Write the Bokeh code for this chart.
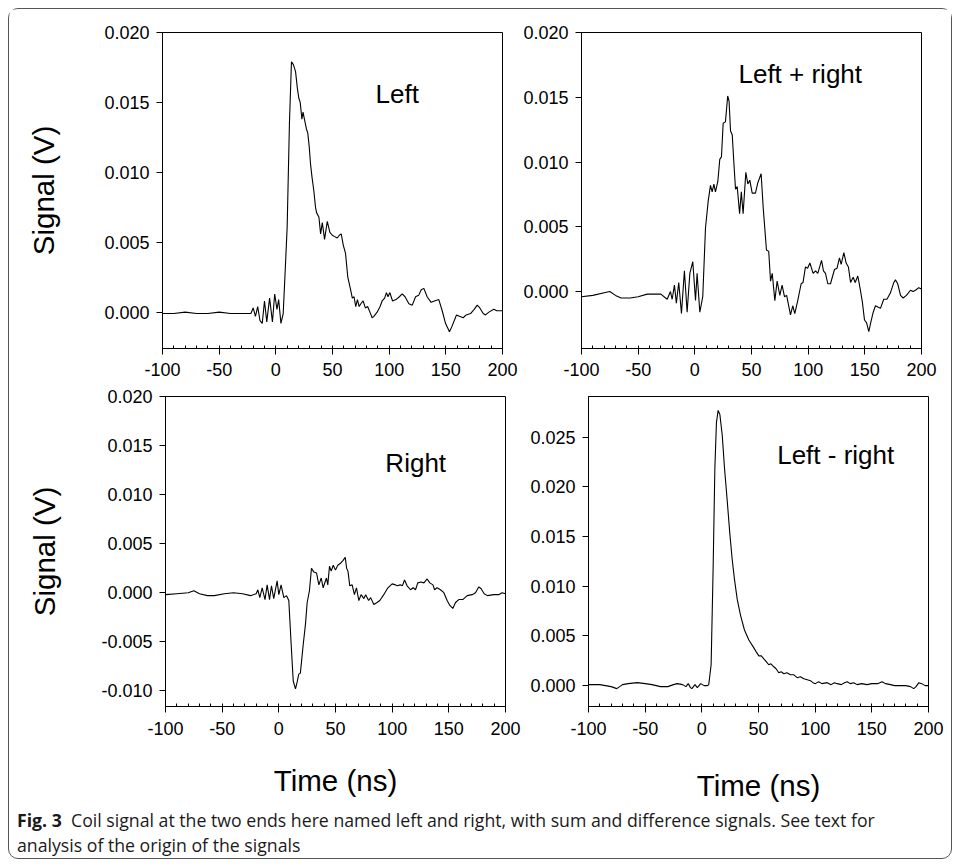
from bokeh.plotting import figure
from bokeh.models import Range1d, Label, Div, PrintfTickFormatter, FixedTicker
from bokeh.layouts import column, row
from bokeh.embed import file_html
from bokeh.resources import INLINE

# ---------------- data ----------------
x_ticks = [-100, -50, 0, 50, 100, 150, 200]

left_t = [-100, -90, -80, -70, -60, -50, -40, -30, -22, -20, -18, -16, -14, -12, -10, -8, -5.5, -3, -1,
          1, 2.5, 4.5, 6.5, 8, 10, 12, 13.8, 15.5, 17.4, 19, 20.3, 21.5, 23, 24, 25.5, 27, 28.2, 29.5,
          30.6, 32, 33.5, 35, 36, 38, 39.5, 41, 43, 45.4, 47.7, 49.8, 52, 54.2, 56, 57.7, 59.5, 61.5,
          63.5, 66, 67.5, 69, 70.5, 72, 73.5, 75, 77, 79, 81, 83, 85, 86.5, 89.4, 92, 93.8, 96, 97.6,
          99, 100.6, 103, 106, 109, 111.5, 114, 117.4, 120.4, 123.3, 126, 128.3, 130.6, 133.5, 137,
          140, 143.8, 146.8, 149.7, 153.2, 155.5, 159.4, 162, 165.3, 168, 171.8, 175, 177.7, 180, 183,
          185, 188, 192.3, 195, 200]
left_v = [-0.0001, -0.0001, 0.0, -0.0001, -0.0001, 0.0, -0.0001, -0.0001, -0.0001, 0.0003, -0.0003,
          0.0004, -0.0006, -0.0008, 0.0008, -0.0007, 0.0010, -0.0007, 0.0013, 0.0002, 0.0009, -0.0008,
          -0.0001, 0.0025, 0.0061, 0.0135, 0.0179, 0.0177, 0.0172, 0.0160, 0.0153, 0.0150, 0.0138,
          0.0143, 0.0137, 0.0131, 0.0128, 0.0118, 0.0106, 0.0096, 0.0087, 0.0075, 0.0071, 0.0068,
          0.0056, 0.0064, 0.0052, 0.0065, 0.0057, 0.0055, 0.0054, 0.0053, 0.0055, 0.0056, 0.0048,
          0.0042, 0.0025, 0.0016, 0.0010, 0.0011, 0.0004, 0.0009, 0.0004, 0.0006, 0.0008, 0.0003,
          0.0004, 0.0, -0.0004, -0.0003, 0.0, 0.0004, 0.0008, 0.0010, 0.0014, 0.0011, 0.0014, 0.0008,
          0.0009, 0.0011, 0.0013, 0.0011, 0.0006, 0.0005, 0.0011, 0.0012, 0.0016, 0.0017, 0.0011,
          0.0007, 0.0008, 0.0009, 0.0001, -0.0008, -0.0014, -0.0010, -0.0002, -0.0003, -0.0004,
          -0.0002, -0.0001, 0.0002, 0.0005, 0.0003, -0.0001, -0.0002, 0.0, 0.0002, 0.0001, 0.0001]

sum_t = [-100, -90, -80, -75, -70, -65, -57, -50, -42, -35, -30, -24.4, -21.5, -20, -18, -16.3, -14.2,
         -11.8, -9.2, -6.8, -4.4, -1.8, 0.6, 2, 4.4, 7, 9.4, 11.8, 13.8, 15.3, 16.8, 18.2, 20.3, 22,
         23.5, 25, 27, 29, 30.2, 31.5, 33, 34.4, 35.9, 37.4, 39.5, 41, 42.6, 45, 46.8, 48.5, 50.6,
         53.5, 55.6, 58.5, 60.3, 63.2, 65.2, 66.8, 68.3, 70.6, 72.6, 75, 77, 79.1, 81, 84.4, 86.4,
         88.2, 90.8, 93.8, 95.5, 97.6, 99.5, 101.5, 104.4, 106.5, 108.5, 111.8, 113.5, 115.3, 117.3,
         119.7, 123.2, 125.5, 127.6, 129.1, 131.5, 133.5, 135.5, 137.4, 139.7, 141.5, 143.8, 146.1,
         147.8, 149.7, 151.5, 153.5, 155.2, 157.4, 159.4, 161.5, 163.8, 166.7, 169.5, 172.6, 175.6,
         177, 179, 181.5, 183.8, 186.7, 190.3, 192.5, 194.7, 197.6, 200]
sum_v = [-0.0004, -0.0003, -0.0001, 0.0, -0.0003, -0.0005, -0.0005, -0.0004, -0.0002, -0.0002,
         -0.0002, -0.0006, 0.0, -0.0006, 0.0005, -0.0009, 0.0007, -0.0017, 0.0016, -0.0016, 0.0014,
         0.0023, -0.0007, 0.0014, -0.0016, -0.0004, 0.0049, 0.0070, 0.0082, 0.0077, 0.0083, 0.0077,
         0.0085, 0.0102, 0.0104, 0.0130, 0.0131, 0.0151, 0.0147, 0.0124, 0.0121, 0.0100, 0.0079,
         0.0081, 0.0060, 0.0077, 0.0060, 0.0092, 0.0083, 0.0086, 0.0076, 0.0076, 0.0084, 0.0091,
         0.0065, 0.0032, 0.0031, 0.0008, 0.0014, -0.0007, 0.0008, -0.0003, 0.0005, -0.0004, -0.0003,
         -0.0018, -0.0011, -0.0017, -0.0007, 0.0006, 0.0007, 0.0019, 0.0018, 0.0022, 0.0014, 0.0016,
         0.0014, 0.0024, 0.0016, 0.0014, 0.0006, 0.0006, 0.0017, 0.0018, 0.0026, 0.0021, 0.0030,
         0.0022, 0.0019, 0.0007, 0.0011, 0.0007, 0.0012, 0.0001, -0.0008, -0.0022, -0.0024, -0.0031,
         -0.0024, -0.0016, -0.0011, -0.0012, -0.0013, -0.0006, -0.0006, -0.0001, 0.0007, 0.0009,
         0.0006, -0.0003, -0.0005, -0.0003, 0.0001, 0.0, 0.0001, 0.0003, 0.0002]

right_t = [-100, -90, -80, -75, -70, -63, -57, -48, -40, -32, -25, -20, -18.5, -16.8, -14.7, -12.2,
           -10.3, -8.2, -6.5, -4.5, -1.5, 0, 2, 4.4, 6.8, 8.8, 10.9, 12.7, 14.7, 16.2, 17.6, 19, 21.5,
           23.5, 25, 27, 28.8, 30.9, 33.3, 35.3, 37.4, 39.1, 42, 43.2, 44.7, 46.2, 48, 50, 52, 54.4,
           56.7, 58.6, 59.8, 61, 62.6, 64.7, 66.7, 68.5, 70.6, 72.6, 75, 76.6, 79.2, 81, 83.8, 86.7,
           89.1, 92.6, 96.2, 100, 103, 104.5, 107.1, 109, 110.9, 113.2, 116.2, 118.5, 120.6, 122.6,
           125.5, 128, 130.9, 133.2, 136, 137.4, 139.6, 142.6, 145.6, 148.5, 150.9, 153.5, 155.9,
           158.8, 162.3, 166.2, 170.6, 173.5, 176.5, 178.5, 181.2, 184.1, 189.7, 194, 197, 200]
right_v = [-0.0002, -0.0001, 0.0, 0.0002, -0.0001, -0.0003, -0.0003, -0.0001, 0.0, -0.0001, -0.0003,
           -0.0001, 0.0003, -0.0005, 0.0005, -0.0007, 0.0008, -0.0007, 0.0007, -0.0006, 0.0012,
           -0.0002, 0.0008, -0.0005, -0.0003, -0.0008, -0.0053, -0.0090, -0.0098, -0.0091, -0.0083,
           -0.0082, -0.0053, -0.0032, -0.0010, 0.0002, 0.0025, 0.0021, 0.0020, 0.0008, 0.0015, 0.0005,
           0.0015, 0.0008, 0.0027, 0.0022, 0.0028, 0.0023, 0.0028, 0.0030, 0.0033, 0.0036, 0.0025,
           0.0022, 0.0007, 0.0008, -0.0002, 0.0005, -0.0008, -0.0002, -0.0006, -0.0002, -0.0008,
           -0.0005, -0.0012, -0.0010, -0.0008, -0.0002, 0.0005, 0.0009, 0.0008, 0.0007, 0.0008, 0.0007,
           0.0013, 0.0007, 0.0003, 0.0005, 0.0003, 0.0010, 0.0011, 0.0010, 0.0014, 0.0010, 0.0008,
           0.0003, 0.0005, 0.0003, 0.0, -0.0008, -0.0013, -0.0016, -0.0010, -0.0007, -0.0007, -0.0003,
           -0.0002, 0.0, 0.0006, 0.0004, -0.0001, -0.0003, -0.0002, -0.0002, 0.0, -0.0001]

diff_t = [-100, -90, -80, -75, -70, -65, -57, -50, -44, -36.5, -30, -25, -21.7, -17, -14, -12, -10,
          -8.8, -6, -4, -1, 2, 5, 6.1, 8.2, 10, 11.5, 12.9, 14.4, 15.9, 18, 20, 22.4, 24.7, 26.8,
          28.8, 31.2, 34.1, 37.6, 41.5, 45.9, 48, 50.3, 52.5, 54.7, 57, 59.1, 61, 63.5, 65.5, 67.9,
          70, 72.4, 75, 78.2, 81, 84.1, 87, 90, 93, 95.9, 98, 100.3, 103, 106, 110.6, 114, 117, 119.4,
          123, 126, 128.2, 131, 134, 137, 141, 145.8, 150, 155, 159.1, 162, 166.5, 170, 175.3, 180,
          184.1, 187, 189, 191.5, 194, 197, 200]
diff_v = [0.0001, 0.0001, -0.0001, -0.0003, 0.0001, 0.0002, 0.0003, 0.0002, 0.0001, -0.0001, -0.0001,
          0.0001, 0.0002, 0.0001, -0.0001, 0.0002, -0.0002, -0.0003, 0.0001, -0.0002, 0.0002, 0.0,
          0.0, 0.0001, 0.0021, 0.0120, 0.0219, 0.0265, 0.0277, 0.0273, 0.0252, 0.0219, 0.0186, 0.0153,
          0.0127, 0.0107, 0.0087, 0.0071, 0.0056, 0.0046, 0.0038, 0.0034, 0.0030, 0.0030, 0.0027,
          0.0024, 0.0021, 0.0022, 0.0019, 0.0017, 0.0013, 0.0014, 0.0012, 0.0013, 0.0011, 0.0011,
          0.0008, 0.0009, 0.0007, 0.0006, 0.0005, 0.0003, 0.0002, 0.0004, 0.0002, 0.0003, 0.0001,
          0.0003, 0.0002, 0.0001, 0.0003, 0.0004, 0.0002, 0.0003, 0.0001, 0.0002, 0.0001, 0.0002,
          0.0002, 0.0004, 0.0002, 0.0001, 0.0, 0.0, 0.0, -0.0001, -0.0003, -0.0001, 0.0003, 0.0002,
          0.0, 0.0]

FONT = "Liberation Sans"


def panel(t, v, yr, yticks, width, height, mbl, mbr, mbt, mbb, label, lx, ly,
          ylabel=None, ylab_standoff=44, xlabel=None, xlab_standoff=16, x_label_standoff=8):
    p = figure(width=width, height=height, x_range=Range1d(-100, 200), y_range=Range1d(*yr),
               output_backend="svg", toolbar_location=None,
               min_border_left=mbl, min_border_right=mbr, min_border_top=mbt, min_border_bottom=mbb)
    p.grid.visible = False
    p.outline_line_color = "black"
    p.outline_line_width = 1
    p.background_fill_color = "white"
    p.border_fill_color = "white"
    p.line(t, v, line_color="black", line_width=1.1)

    xa = p.xaxis[0]
    xa.ticker = FixedTicker(ticks=x_ticks, minor_ticks=list(range(-100, 201, 10)))
    xa.formatter = PrintfTickFormatter(format="%d")
    xa.major_tick_in = 0
    xa.major_tick_out = 6
    xa.minor_tick_in = 3
    xa.minor_tick_out = 0
    xa.major_label_standoff = x_label_standoff
    xa.major_label_text_font = FONT
    xa.major_label_text_font_size = "18px"
    xa.major_label_text_color = "black"
    xa.axis_line_color = "black"
    if xlabel:
        xa.axis_label = xlabel
        xa.axis_label_text_font = FONT
        xa.axis_label_text_font_size = "29.5px"
        xa.axis_label_text_font_style = "normal"
        xa.axis_label_text_color = "black"
        xa.axis_label_standoff = xlab_standoff

    ya = p.yaxis[0]
    ya.ticker = FixedTicker(ticks=yticks, minor_ticks=[])
    ya.formatter = PrintfTickFormatter(format="%.3f")
    ya.major_tick_in = 0
    ya.major_tick_out = 6
    ya.minor_tick_in = 0
    ya.minor_tick_out = 0
    ya.major_label_standoff = 7
    ya.major_label_text_font = FONT
    ya.major_label_text_font_size = "18px"
    ya.major_label_text_color = "black"
    ya.axis_line_color = "black"
    if ylabel:
        ya.axis_label = ylabel
        ya.axis_label_text_font = FONT
        ya.axis_label_text_font_size = "29.5px"
        ya.axis_label_text_font_style = "normal"
        ya.axis_label_text_color = "black"
        ya.axis_label_standoff = ylab_standoff

    p.add_layout(Label(x=lx, y=ly, text=label, text_font=FONT, text_font_size="26px",
                       text_baseline="middle", text_align="left", text_color="black"))
    return p


p1 = panel(left_t, left_v, (-0.0026, 0.020), [0, 0.005, 0.010, 0.015, 0.020],
           510, 375, 153, 17, 23, 36, "Left", 88, 0.0156, ylabel="Signal (V)", ylab_standoff=41)
p2 = panel(sum_t, sum_v, (-0.0044, 0.020), [0, 0.005, 0.010, 0.015, 0.020],
           432, 375, 62, 30, 23, 36, "Left + right", 38.5, 0.0168)
p3 = panel(right_t, right_v, (-0.0116, 0.020), [-0.010, -0.005, 0, 0.005, 0.010, 0.015, 0.020],
           512, 420, 156, 16, 12, 92, "Right", 94, 0.0132, ylabel="Signal (V)", ylab_standoff=37,
           xlabel="Time (ns)", xlab_standoff=26, x_label_standoff=9)
p4 = panel(diff_t, diff_v, (-0.0021, 0.0291), [0, 0.005, 0.010, 0.015, 0.020, 0.025],
           430, 420, 67, 23, 9, 94, "Left - right", 66.5, 0.0232,
           xlabel="Time (ns)", xlab_standoff=31, x_label_standoff=9)

caption = Div(
    text='<b>Fig. 3</b>&nbsp; Coil signal at the two ends here named left and right, with sum and '
         'difference signals. See text for<br>analysis of the origin of the signals',
    width=934, height=54, margin=(0, 0, 0, 0),
    styles={"font-family": "Open Sans", "font-size": "17.7px", "line-height": "25px",
            "padding-left": "8px", "padding-top": "4px", "color": "#1a1a1a"})

layout = column(row(p1, p2), row(p3, p4), caption, margin=(8, 0, 0, 8),
                styles={"border": "1px solid #555", "border-radius": "10px", "background": "white"})

open("out.html", "w").write(file_html(layout, INLINE))
